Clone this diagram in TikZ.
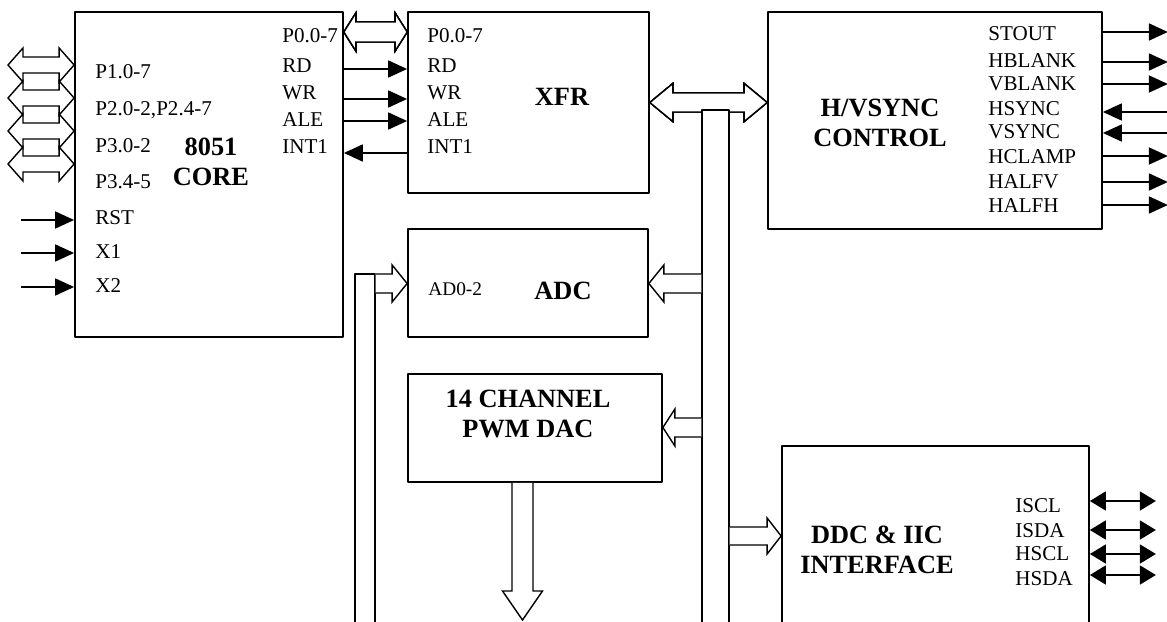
\documentclass[tikz,border=0pt]{standalone}
\usepackage{fontspec}
\setmainfont{Liberation Serif}
\usetikzlibrary{arrows.meta,calc,fit}

\tikzset{
  blockbox/.style={draw, line width=1pt, inner sep=0pt},
  busbox/.style={draw, fill=white, line width=0.8pt, inner sep=0pt},
  busline/.style={draw, fill=white, line width=0.8pt, line join=miter},
  sig/.style={line width=1pt, -{Triangle[length=0.38cm,width=0.34cm]}},
  sigin/.style={line width=1pt, {Triangle[length=0.38cm,width=0.34cm]}-},
  sigboth/.style={line width=1pt, {Triangle[length=0.32cm,width=0.38cm]}-{Triangle[length=0.32cm,width=0.38cm]}},
  port/.style={anchor=base west, inner sep=0pt, font=\fontsize{12}{14}\selectfont},
  title/.style={align=center, inner sep=0pt, font=\bfseries\fontsize{15}{17}\selectfont},
}

% hollow bus arrows: tail, tip, half shaft, half head, head length
\newcommand{\busR}[5]{%
  \draw[busline] ($(#1)+(0,{-(#3)})$) -- ($(#2)+({-(#5)},{-(#3)})$) -- ($(#2)+({-(#5)},{-(#4)})$)
    -- (#2) -- ($(#2)+({-(#5)},#4)$) -- ($(#2)+({-(#5)},#3)$) -- ($(#1)+(0,#3)$);}
\newcommand{\busLR}[5]{%
  \draw[busline] (#1) -- ($(#1)+(#5,{-(#4)})$) -- ($(#1)+(#5,{-(#3)})$)
    -- ($(#2)+({-(#5)},{-(#3)})$) -- ($(#2)+({-(#5)},{-(#4)})$) -- (#2)
    -- ($(#2)+({-(#5)},#4)$) -- ($(#2)+({-(#5)},#3)$)
    -- ($(#1)+(#5,#3)$) -- ($(#1)+(#5,#4)$) -- cycle;}
\newcommand{\busD}[5]{%
  \draw[busline] ($(#1)+({-(#3)},0)$) -- ($(#2)+({-(#3)},{-(#5)})$) -- ($(#2)+({-(#4)},{-(#5)})$)
    -- (#2) -- ($(#2)+(#4,{-(#5)})$) -- ($(#2)+(#3,{-(#5)})$) -- ($(#1)+(#3,0)$);}

\begin{document}
\begin{tikzpicture}[x=0.02cm, y=-0.02cm, line join=round]
  \clip (0,0) rectangle (1167,622);

  % blocks
  \node[blockbox, fit={(75,12) (343,337)}] (core) {};
  \node[blockbox, fit={(408,12) (649,193)}] (xfr) {};
  \node[blockbox, fit={(768,12) (1102,229)}] (hv) {};
  \node[blockbox, fit={(408,229) (648,337)}] (adc) {};
  \node[blockbox, fit={(408,374) (662,482)}] (pwm) {};
  \node[blockbox, fit={(782,446) (1089,660)}] (ddc) {};

  % titles
  \node[title] (coretitle) at (211,162) {8051\\CORE};
  \node[title] (xfrtitle) at (562,97) {XFR};
  \node[title] (hvtitle) at (880,123) {H/VSYNC\\CONTROL};
  \node[title] (adctitle) at (563,291) {ADC};
  \node[title] (pwmtitle) at (528,414) {14 CHANNEL\\PWM DAC};
  \node[title] (ddctitle) at (877,550) {DDC \& IIC\\INTERFACE};

  % port labels
  \foreach \t/\y in {P1.0-7/78, {P2.0-2,P2.4-7}/115, P3.0-2/152, P3.4-5/188, RST/224, X1/258, X2/292}
    \node[port] at (95,\y) {\t};
  \foreach \t/\y in {P0.0-7/42, RD/72, WR/99, ALE/126, INT1/153} {
    \node[port] at (282,\y) {\t};
    \node[port] at (427,\y) {\t};
  }
  \foreach \t/\y in {STOUT/40, HBLANK/67, VBLANK/90, HSYNC/115, VSYNC/138, HCLAMP/163, HALFV/188, HALFH/212}
    \node[port] at (988,\y) {\t};
  \foreach \t/\y in {ISCL/512, ISDA/537, HSCL/560, HSDA/585}
    \node[port] at (1015,\y) {\t};
  \node[port, font=\fontsize{11}{13}\selectfont] (adport) at (428,295) {AD0-2};

  % thin signals
  \foreach \y in {220,253,287}
    \draw[sig] (core.west |- 0,\y) ++(-53,0) -- ++(53,0);
  \foreach \y in {69,99,121}
    \draw[sig] (core.east |- 0,\y) -- (xfr.west |- 0,\y);
  \draw[sig] (xfr.west |- 0,153) -- (core.east |- 0,153);
  \foreach \y/\s in {32/sig, 62/sig, 84/sig, 112/sigin, 133/sigin, 156/sig, 182/sig, 205/sig}
    \draw[\s] (hv.east |- 0,\y) -- ++(65,0);
  \foreach \y in {501,530,554,575}
    \draw[sigboth] (ddc.east |- 0,\y) -- ++(66,0);

  % buses
  \foreach \c in {65,98,131,164}
    \busLR{8,\c}{core.west |- 0,\c}{8}{17}{15}
  \busLR{core.east |- 0,32}{xfr.west |- 0,32}{10}{19}{12}
  \busLR{xfr.east |- 0,102.5}{hv.west |- 0,102.5}{9.5}{19}{23}
  \node[busbox, fit={(702,110) (729,660)}] (busone) {};
  \node[busbox, fit={(355,274) (375,660)}] (bustwo) {};
  \busR{bustwo.east |- 0,283.5}{adc.west |- 0,283.5}{9.5}{18.5}{15}
  \busR{busone.west |- 0,283.5}{adc.east |- 0,283.5}{9.5}{18.5}{-15}
  \busR{busone.west |- 0,427.5}{pwm.east |- 0,427.5}{9.5}{18.5}{-12}
  \busR{busone.east |- 0,536}{ddc.west |- 0,536}{9}{18}{14}
  \coordinate (dacout) at (522.5,620);
  \busD{pwm.south -| dacout}{dacout}{10.5}{20}{29}
\end{tikzpicture}
\end{document}
